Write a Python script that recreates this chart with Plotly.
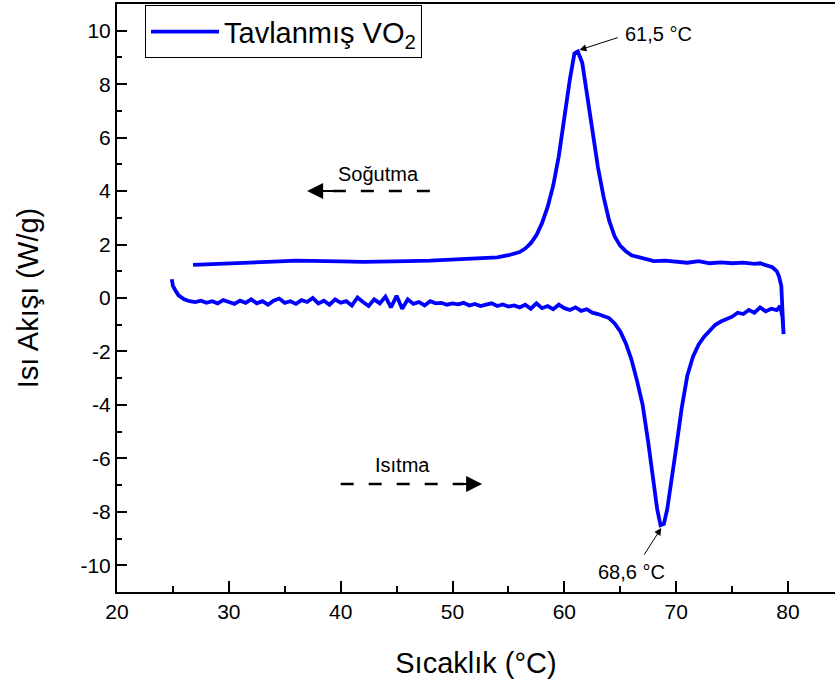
import plotly.graph_objects as go

# Heating curve (Isıtma) — temperature (°C) and heat flow (W/g)
heat_x = [24.9, 25.0, 25.2, 25.5, 26.0, 26.5, 27.0, 27.5, 28.0, 28.5, 29.0, 29.5,
          30.0, 30.5, 31.0, 31.5, 32.0, 32.5, 33.0, 33.5, 34.0, 34.5, 35.0, 35.5,
          36.0, 36.5, 37.0, 37.5, 38.0, 38.5, 39.0, 39.5, 40.0, 40.5, 41.0, 41.5,
          42.0, 42.5, 43.0, 43.5, 44.0, 44.5, 45.0, 45.5, 46.0, 46.5, 47.0, 47.5,
          48.0, 48.5, 49.0, 49.5, 50.0, 50.5, 51.0, 51.5, 52.0, 52.5, 53.0, 53.5,
          54.0, 54.5, 55.0, 55.5, 56.0, 56.5, 57.0, 57.5, 58.0, 58.5, 59.0, 59.5,
          60.0, 60.5, 61.0, 61.5, 62.0, 62.5, 63.0, 63.5, 64.0, 64.5, 65.0, 65.5,
          66.0, 66.5, 67.0, 67.5, 68.0, 68.3, 68.6, 68.9, 69.2, 69.5, 70.0, 70.5,
          71.0, 71.5, 72.0, 72.5, 73.0, 73.5, 74.0, 74.5, 75.0, 75.5, 76.0, 76.5,
          77.0, 77.5, 78.0, 78.5, 79.0, 79.3, 79.5, 79.6]
heat_y = [0.70, 0.45, 0.30, 0.10, -0.05, -0.12, -0.15, -0.10, -0.18, -0.12, -0.20, -0.08,
          -0.15, -0.22, -0.10, -0.18, -0.05, -0.20, -0.12, -0.25, -0.10, -0.02, -0.18, -0.12,
          -0.22, -0.08, -0.15, 0.00, -0.20, -0.10, -0.25, -0.05, -0.18, -0.12, -0.28, 0.02,
          -0.15, -0.30, -0.05, -0.20, 0.05, -0.35, 0.08, -0.40, -0.05, -0.22, -0.15, -0.28,
          -0.12, -0.20, -0.18, -0.25, -0.20, -0.24, -0.18, -0.28, -0.22, -0.30, -0.25, -0.20,
          -0.30, -0.24, -0.32, -0.28, -0.35, -0.25, -0.40, -0.20, -0.38, -0.30, -0.42, -0.25,
          -0.38, -0.45, -0.35, -0.48, -0.42, -0.55, -0.60, -0.68, -0.75, -0.95, -1.25, -1.70,
          -2.30, -3.10, -4.00, -5.40, -7.00, -7.90, -8.50, -8.45, -7.90, -7.10, -5.60, -4.10,
          -2.90, -2.20, -1.75, -1.45, -1.20, -1.00, -0.88, -0.78, -0.70, -0.55, -0.60, -0.45,
          -0.55, -0.35, -0.50, -0.40, -0.45, -0.30, -0.70, -1.35]

# Cooling curve (Soğutma), from hot end back to room temperature
cool_x = [79.55, 79.5, 79.4, 79.2, 79.0, 78.6, 78.0, 77.5, 77.0, 76.0, 75.0, 74.0,
          73.0, 72.0, 71.0, 70.0, 69.0, 68.0, 67.0, 66.0, 65.5, 65.0, 64.5, 64.0,
          63.5, 63.0, 62.5, 62.0, 61.6, 61.2, 60.9, 60.5, 60.0, 59.5, 59.0, 58.5,
          58.0, 57.5, 57.0, 56.5, 56.0, 55.0, 54.0, 52.0, 50.0, 48.0, 46.0, 44.0,
          42.0, 40.0, 38.0, 36.0, 34.0, 32.0, 30.0, 28.0, 26.8]
cool_y = [-0.60, 0.00, 0.45, 0.80, 1.00, 1.15, 1.25, 1.30, 1.28, 1.32, 1.30, 1.33,
          1.30, 1.38, 1.32, 1.35, 1.40, 1.38, 1.50, 1.60, 1.75, 1.95, 2.30, 2.90,
          3.80, 4.90, 6.30, 7.70, 8.80, 9.22, 9.15, 8.20, 6.80, 5.30, 4.20, 3.40,
          2.80, 2.35, 2.05, 1.85, 1.72, 1.60, 1.52, 1.47, 1.42, 1.40, 1.38, 1.36,
          1.35, 1.37, 1.38, 1.40, 1.36, 1.32, 1.28, 1.24, 1.24]

x_ticks = [20, 30, 40, 50, 60, 70, 80]
y_ticks = [-10, -8, -6, -4, -2, 0, 2, 4, 6, 8, 10]

FONT = "Liberation Sans, Arial, sans-serif"
BLUE = "#0000ff"

fig = go.Figure()
fig.add_trace(go.Scatter(
    x=heat_x + cool_x, y=heat_y + cool_y, mode="lines",
    line=dict(color=BLUE, width=3.8),
    name="Tavlanmış VO<sub>2</sub>",
))

# Direction arrows (dashed shafts)
fig.add_shape(type="line", x0=39.3, y0=4.0, x1=48.3, y1=4.0, xref="x", yref="y",
              line=dict(color="black", width=2.5, dash="13px,15px"))
fig.add_annotation(x=37.0, y=4.0, ax=39.6, ay=4.0, axref="x", ayref="y",
                   xref="x", yref="y", text="", showarrow=True,
                   arrowhead=2, arrowsize=1.6, arrowwidth=2, arrowcolor="black")
fig.add_annotation(x=43.4, y=4.63, text="Soğutma", showarrow=False,
                   font=dict(family=FONT, size=20, color="black"))

fig.add_shape(type="line", x0=40.0, y0=-6.96, x1=51.0, y1=-6.96, xref="x", yref="y",
              line=dict(color="black", width=2.5, dash="13px,15px"))
fig.add_annotation(x=52.65, y=-6.96, ax=50.4, ay=-6.96, axref="x", ayref="y",
                   xref="x", yref="y", text="", showarrow=True,
                   arrowhead=2, arrowsize=1.6, arrowwidth=2, arrowcolor="black")
fig.add_annotation(x=45.5, y=-6.25, text="Isıtma", showarrow=False,
                   font=dict(family=FONT, size=20, color="black"))

# Peak labels
fig.add_annotation(x=61.35, y=9.28, ax=64.9, ay=9.76, axref="x", ayref="y",
                   xref="x", yref="y", text="", showarrow=True,
                   arrowhead=2, arrowsize=1.4, arrowwidth=1, arrowcolor="black")
fig.add_annotation(x=68.39, y=9.88, text="61,5 °C", showarrow=False,
                   font=dict(family=FONT, size=20, color="black"))
fig.add_annotation(x=68.66, y=-8.61, ax=67.05, ay=-9.66, axref="x", ayref="y",
                   xref="x", yref="y", text="", showarrow=True,
                   arrowhead=2, arrowsize=1.4, arrowwidth=1, arrowcolor="black")
fig.add_annotation(x=66.02, y=-10.26, text="68,6 °C", showarrow=False,
                   font=dict(family=FONT, size=20, color="black"))

fig.update_layout(
    width=835, height=683,
    margin=dict(l=117, r=0, t=4, b=91),
    paper_bgcolor="white", plot_bgcolor="white",
    font=dict(family=FONT, color="black"),
    showlegend=True,
    legend=dict(x=0.039, y=0.998, xanchor="left", yanchor="top",
                bordercolor="black", borderwidth=1, bgcolor="white",
                font=dict(family=FONT, size=29, color="black"),
                itemwidth=68, tracegroupgap=0),
)
fig.update_xaxes(
    range=[20, 84.2], tickvals=x_ticks, ticktext=[str(v) for v in x_ticks],
    showline=True, linecolor="black", linewidth=2, mirror=True,
    ticks="inside", ticklen=11, tickwidth=2, tickcolor="black",
    minor=dict(dtick=5, tick0=0, ticks="inside", ticklen=6, tickwidth=2, tickcolor="black"),
    showgrid=False, zeroline=False,
    tickfont=dict(family=FONT, size=21, color="black"),
    title=dict(text="Sıcaklık (°C)", font=dict(family=FONT, size=29, color="black"), standoff=30),
)
fig.update_yaxes(
    range=[-11, 11], tickvals=y_ticks, ticktext=[str(v) for v in y_ticks],
    showline=True, linecolor="black", linewidth=2, mirror=False,
    ticks="inside", ticklen=10, tickwidth=2, tickcolor="black",
    minor=dict(dtick=1, tick0=0, ticks="inside", ticklen=5, tickwidth=2, tickcolor="black"),
    showgrid=False, zeroline=False,
    tickfont=dict(family=FONT, size=21, color="black"),
    title=dict(text="Isı Akışı (W/g)", font=dict(family=FONT, size=29, color="black"), standoff=33),
)

fig.write_html("out.html")
